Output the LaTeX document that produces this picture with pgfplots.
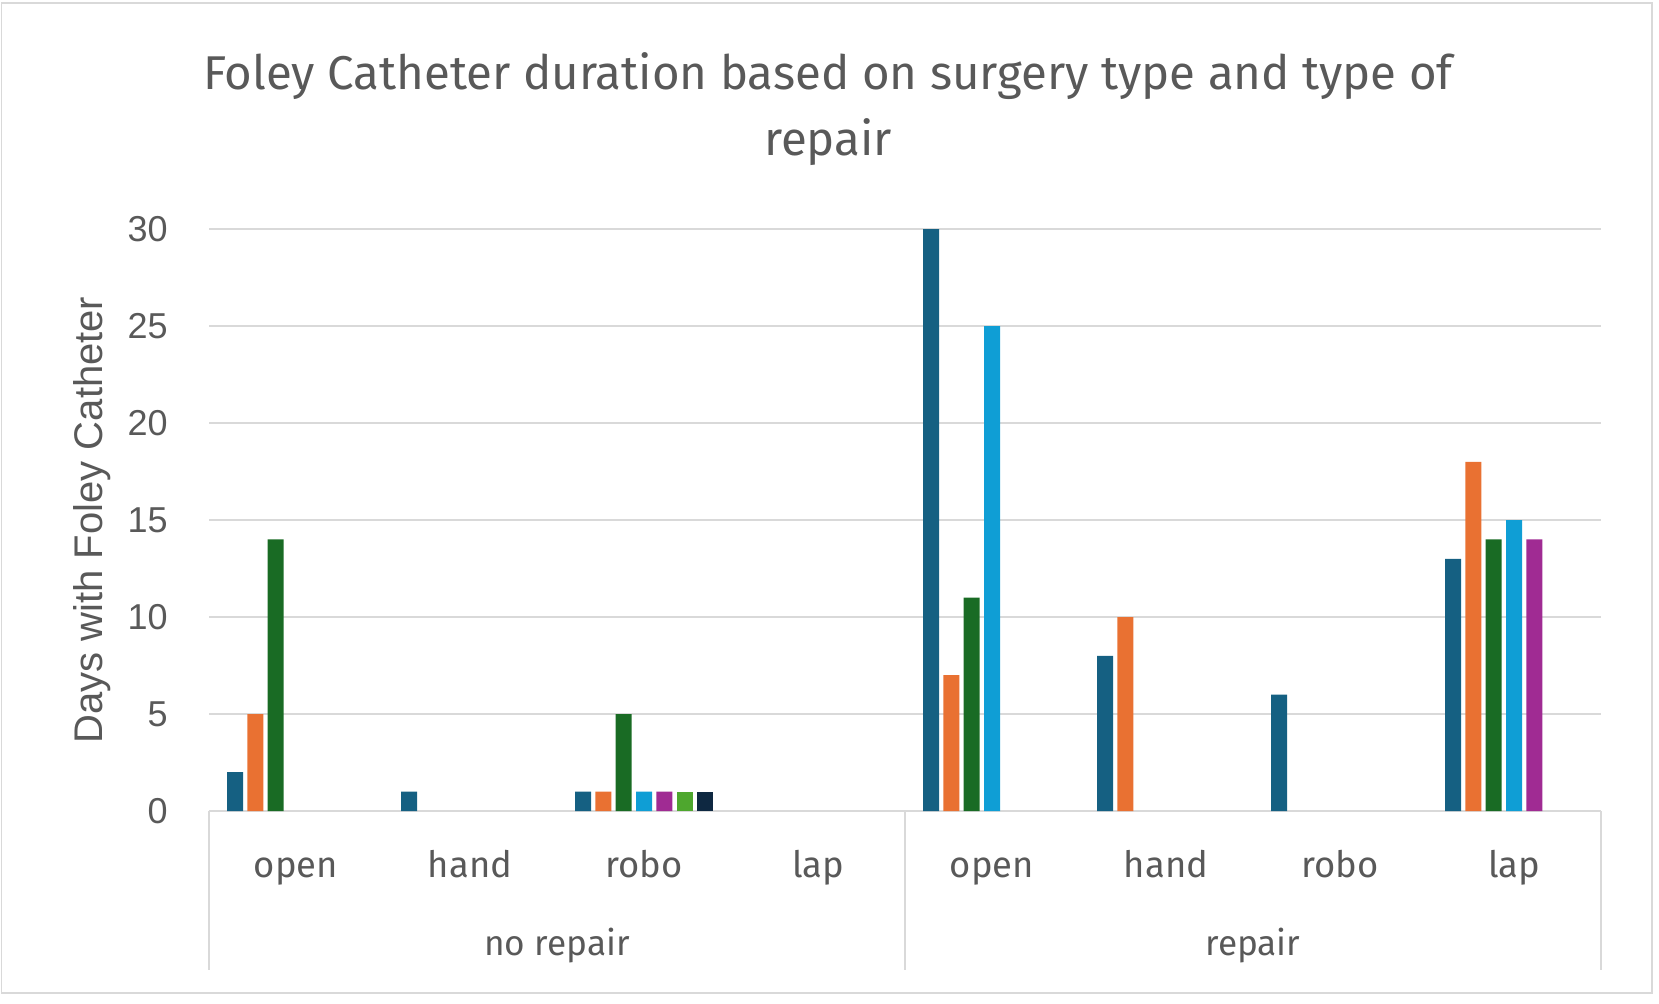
\documentclass[border=0pt]{standalone}
\usepackage{fontspec}
\setmainfont{Liberation Sans}
\newfontfamily\catfont{Fira Sans}
\usepackage{pgfplots}
\pgfplotsset{compat=1.18}
\definecolor{c1}{HTML}{156082}
\definecolor{c2}{HTML}{E97132}
\definecolor{c3}{HTML}{196B24}
\definecolor{c4}{HTML}{0F9ED5}
\definecolor{c5}{HTML}{A02B93}
\definecolor{c6}{HTML}{4EA72E}
\definecolor{c7}{HTML}{0E2841}
\definecolor{tx}{HTML}{595959}
\definecolor{gr}{HTML}{D9D9D9}
\begin{document}
\begin{tikzpicture}
\useasboundingbox (0pt,0pt) rectangle (829.5pt,-501.5pt);
\draw[gr, line width=0.75pt] (0.75pt,-1.5pt) rectangle (826pt,-496.5pt);
\node[anchor=base, text=tx, inner sep=0pt, font=\catfont\fontsize{23.7}{28}\selectfont] at (414pt,-44.5pt) {Foley Catheter duration based on surgery type and type of};
\node[anchor=base, text=tx, inner sep=0pt, font=\catfont\fontsize{23.7}{28}\selectfont] at (414pt,-77.5pt) {repair};
\begin{axis}[
  at={(104.5pt,-405.5pt)}, anchor=south west,
  scale only axis, width=696pt, height=291pt,
  xmin=-0.5, xmax=7.5, ymin=0, ymax=30,
  ytick={0,5,...,30},
  xtick={0,...,7},
  xticklabels={open,hand,robo,lap,open,hand,robo,lap},
  major tick length=0pt,
  tick style={draw=none},
  ymajorgrids, grid style={gr, line width=0.75pt},
  axis lines*=left,
  y axis line style={draw=none},
  x axis line style={gr, line width=0.75pt},
  /pgf/number format/assume math mode=true,
  yticklabel style={font=\fontsize{18}{21}\selectfont, text=tx, inner sep=0pt, anchor=east, xshift=-20.5pt},
  xticklabel style={font=\catfont\fontsize{18.2}{22}\selectfont, text=tx, inner sep=0pt, anchor=base, yshift=-33pt},
  ylabel={Days with Foley Catheter},
  every axis y label/.style={at={(axis description cs:-0.0762,0.5)}, rotate=90, anchor=base, font=\fontsize{20}{24}\selectfont, text=tx},
  clip=false,
  ybar, bar width=0.092,
]
\addplot[fill=c1, draw=none, bar shift=-0.3495] coordinates {(0,2) (1,1) (2,1) (4,30) (5,8) (6,6) (7,13)};
\addplot[fill=c2, draw=none, bar shift=-0.233] coordinates {(0,5) (2,1) (4,7) (5,10) (7,18)};
\addplot[fill=c3, draw=none, bar shift=-0.1165] coordinates {(0,14) (2,5) (4,11) (7,14)};
\addplot[fill=c4, draw=none, bar shift=0] coordinates {(2,1) (4,25) (7,15)};
\addplot[fill=c5, draw=none, bar shift=0.1165] coordinates {(2,1) (7,14)};
\addplot[fill=c6, draw=none, bar shift=0.233] coordinates {(2,1)};
\addplot[fill=c7, draw=none, bar shift=0.3495] coordinates {(2,1)};
\draw[gr, line width=0.75pt] (axis cs:-0.5,0) -- ++(0pt,-79.5pt);
\draw[gr, line width=0.75pt] (axis cs:3.5,0) -- ++(0pt,-79.5pt);
\draw[gr, line width=0.75pt] (axis cs:7.5,0) -- ++(0pt,-79.5pt);
\node[anchor=base, text=tx, inner sep=0pt, font=\catfont\fontsize{17.6}{22}\selectfont] at (axis cs:1.5,0) [yshift=-72pt] {no repair};
\node[anchor=base, text=tx, inner sep=0pt, font=\catfont\fontsize{17.6}{22}\selectfont] at (axis cs:5.5,0) [yshift=-72pt] {repair};
\end{axis}
\end{tikzpicture}
\end{document}
